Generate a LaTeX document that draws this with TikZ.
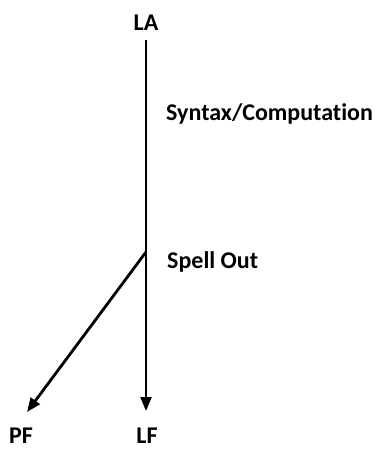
\documentclass[tikz,border=0pt]{standalone}
\usepackage{fontspec}
\setmainfont{Carlito}[Ligatures={NoCommon,NoRequired,NoContextual}]
\usetikzlibrary{arrows.meta}
\begin{document}
\begin{tikzpicture}[x=1pt,y=-1pt,
  lbl/.style={font=\bfseries\fontsize{24}{26}\selectfont, inner sep=0pt},
  conn/.style={line width=2.2pt, -{Triangle[length=14pt,width=11pt]}}]
\useasboundingbox (0,0) rectangle (382,450);
\node[lbl] (LA) at (146,23) {LA};
\node[lbl] (LF) at (147,436) {LF};
\node[lbl] (PF) at (21,436) {PF};
\node[lbl, anchor=west] (syn) at (166,114) {Syntax/Computation};
\node[lbl, anchor=west] (so) at (167,262) {Spell Out};
\coordinate (top) at (146,40);
\coordinate (lfend) at (146,411);
\coordinate (branch) at (146,252);
\coordinate (pfend) at (27,412);
\draw[conn] (top) -- (lfend);
\draw[conn, line width=2.8pt] (branch) -- (pfend);
\end{tikzpicture}
\end{document}
